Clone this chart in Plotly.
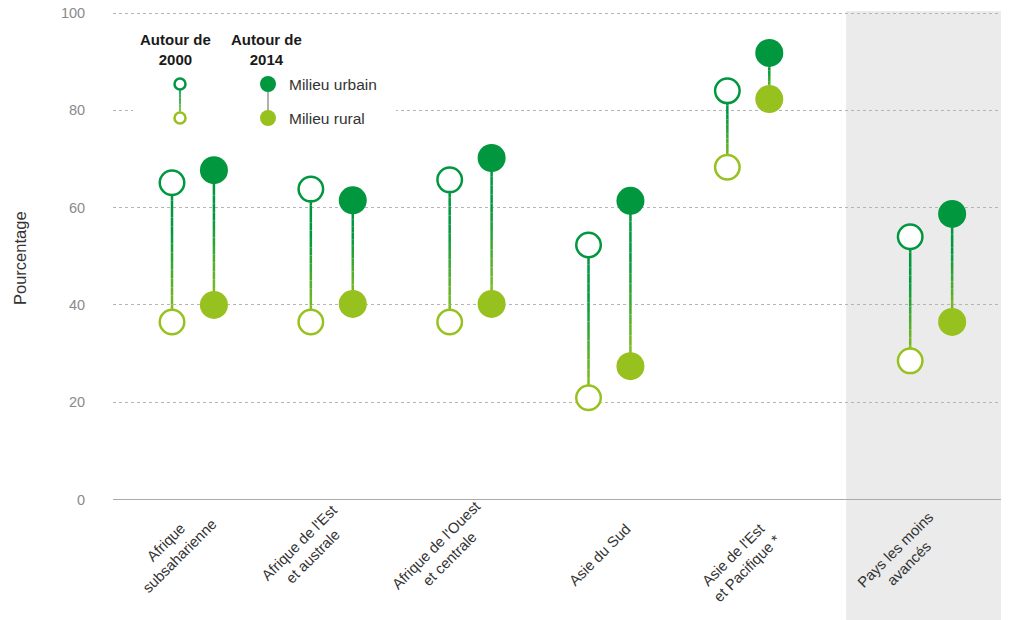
import plotly.graph_objects as go

# ---------------- data ----------------
categories = [
    "Afrique<br>subsaharienne",
    "Afrique de l'Est<br>et australe",
    "Afrique de l'Ouest<br>et centrale",
    "Asie du Sud",
    "Asie de l'Est<br>et Pacifique *",
    "Pays les moins<br>avancés",
]
urban_2000 = [65.1, 63.8, 65.7, 52.3, 84.0, 54.0]
rural_2000 = [36.5, 36.5, 36.5, 20.9, 68.3, 28.5]
urban_2014 = [67.7, 61.5, 70.2, 61.4, 91.8, 58.7]
rural_2014 = [40.0, 40.2, 40.2, 27.4, 82.3, 36.5]
y_ticks = [0, 20, 40, 60, 80, 100]

# ---------------- layout helpers ----------------
W, H = 1009, 620
DARK = "#00973F"
LIGHT = "#97C11F"
FONT = "Liberation Sans"

group_x = [0, 1, 2, 3, 4, 5.317]       # category positions on x axis
pair_off = 0.151                        # offset of 2000 / 2014 pairs
label_dx = [-0.15, -0.187, -0.205, -0.07, -0.06, -0.21]
label_y = [549, 549, 552, 555, 561, 556]
x_range = [-0.576, 5.82]
band_x0 = 4.705
y_top_pad = 0.3
px_per_unit = 4.865


def hex2rgb(h):
    h = h.lstrip("#")
    return tuple(int(h[i:i + 2], 16) for i in (0, 2, 4))


def mix(c1, c2, t):
    a, b = hex2rgb(c1), hex2rgb(c2)
    return "rgb(%d,%d,%d)" % tuple(round(a[i] + (b[i] - a[i]) * t) for i in range(3))


def gradient_segments(x, y_top, y_bot, width, xref="x", yref="y", n=16):
    shapes = []
    for k in range(n):
        t0, t1 = k / n, (k + 1) / n
        ya = y_top + (y_bot - y_top) * t0
        yb = y_top + (y_bot - y_top) * t1
        t = (t0 + t1) / 2
        tt = max(0.0, min(1.0, (t - 0.35) / 0.65))
        shapes.append(dict(type="line", xref=xref, yref=yref, x0=x, x1=x, y0=ya, y1=yb,
                           line=dict(color=mix(DARK, LIGHT, tt), width=width), layer="between"))
    return shapes


fig = go.Figure()
shapes = []

# grey band for "Pays les moins avancés"
shapes.append(dict(type="rect", xref="x", yref="paper", x0=band_x0, x1=x_range[1],
                   y0=0, y1=1 - 11 / H, fillcolor="#EBEBEB", line=dict(width=0), layer="below"))

x2000 = [g - pair_off for g in group_x]
x2014 = [g + pair_off for g in group_x]

for i in range(len(categories)):
    shapes += gradient_segments(x2000[i], urban_2000[i], rural_2000[i], 2.5)
    shapes += gradient_segments(x2014[i], urban_2014[i], rural_2014[i], 2.5)

fig.add_trace(go.Scatter(x=x2000, y=urban_2000, mode="markers", hoverinfo="skip",
                         marker=dict(size=24.5, color="white", line=dict(color=DARK, width=2.5))))
fig.add_trace(go.Scatter(x=x2000, y=rural_2000, mode="markers", hoverinfo="skip",
                         marker=dict(size=24.5, color="white", line=dict(color=LIGHT, width=2.5))))
fig.add_trace(go.Scatter(x=x2014, y=urban_2014, mode="markers", hoverinfo="skip",
                         marker=dict(size=28, color=DARK, line=dict(width=0))))
fig.add_trace(go.Scatter(x=x2014, y=rural_2014, mode="markers", hoverinfo="skip",
                         marker=dict(size=28, color=LIGHT, line=dict(width=0))))

# ---------------- legend (pixel coordinate overlay axes) ----------------
shapes.append(dict(type="rect", xref="x2", yref="y2", x0=133, x1=396, y0=22, y1=136,
                   fillcolor="white", line=dict(width=0), layer="between"))
shapes += gradient_segments(180, 84, 118, 1.6, xref="x2", yref="y2", n=10)
shapes.append(dict(type="line", xref="x2", yref="y2", x0=268, x1=268, y0=84, y1=118,
                   line=dict(color="#9E9E9E", width=1.6), layer="between"))

fig.add_trace(go.Scatter(x=[180, 180], y=[84, 118], xaxis="x2", yaxis="y2", mode="markers",
                         hoverinfo="skip",
                         marker=dict(size=11, color="white", line=dict(color=[DARK, LIGHT], width=2.5))))
fig.add_trace(go.Scatter(x=[268, 268], y=[84, 118], xaxis="x2", yaxis="y2", mode="markers",
                         hoverinfo="skip", marker=dict(size=16, color=[DARK, LIGHT], line=dict(width=0))))

annotations = []
for txt, cx in [("Autour de<br>2000", 175), ("Autour de<br>2014", 266)]:
    annotations.append(dict(xref="x2", yref="y2", x=cx, y=49, text=txt, showarrow=False,
                            xanchor="center", yanchor="middle",
                            font=dict(family=FONT, size=15, color="#1a1a1a", weight="bold")))
for txt, cy in [("Milieu urbain", 84), ("Milieu rural", 118)]:
    annotations.append(dict(xref="x2", yref="y2", x=287, y=cy, text=txt, showarrow=False,
                            xanchor="left", yanchor="middle",
                            font=dict(family=FONT, size=15.5, color="#333")))

# category labels
for i, cat in enumerate(categories):
    annotations.append(dict(xref="x", yref="paper", x=group_x[i] + label_dx[i],
                            y=1 - label_y[i] / H, text=cat, showarrow=False, textangle=-45,
                            xanchor="center", yanchor="middle", align="center",
                            font=dict(family=FONT, size=14.8, color="#333")))

# y title
annotations.append(dict(xref="paper", yref="paper", x=20 / W, y=1 - 258 / H, text="Pourcentage",
                        showarrow=False, textangle=-90, xanchor="center", yanchor="middle",
                        font=dict(family=FONT, size=16.5, color="#333")))

fig.update_layout(
    width=W, height=H,
    margin=dict(l=0, r=0, t=0, b=0, pad=0, autoexpand=False),
    paper_bgcolor="white", plot_bgcolor="rgba(0,0,0,0)",
    showlegend=False,
    shapes=shapes,
    annotations=annotations,
    xaxis=dict(domain=[113 / W, 1001 / W], range=x_range, showgrid=False, zeroline=False,
               showticklabels=False, fixedrange=True, automargin=False),
    yaxis=dict(domain=[1 - 499.5 / H, 1 - (13 - y_top_pad * px_per_unit) / H],
               range=[0, 100 + y_top_pad], tickvals=y_ticks,
               showgrid=True, gridcolor="#B5B5B5", griddash="3px,3px", gridwidth=1,
               zeroline=True, zerolinecolor="#AAAAAA", zerolinewidth=1.5,
               ticks="outside", ticklen=24, tickcolor="rgba(0,0,0,0)", automargin=False,
               tickfont=dict(family=FONT, size=14.5, color="#8A8A8A"), fixedrange=True),
    xaxis2=dict(domain=[0, 1], range=[0, W], visible=False, fixedrange=True, anchor="y2",
                automargin=False),
    yaxis2=dict(domain=[0, 1], range=[H, 0], visible=False, fixedrange=True, anchor="x2",
                automargin=False),
)

fig.write_html(
    "out.html",
    config={"displayModeBar": False, "staticPlot": True},
    post_script=(
        "var d=document.getElementById('{plot_id}');"
        "d.style.position='fixed';d.style.top='0px';d.style.left='0px';"
        "document.body.style.margin='0';document.body.style.padding='0';"
        "document.body.style.overflow='hidden';"
        "document.documentElement.style.overflow='hidden';"
    ),
)
